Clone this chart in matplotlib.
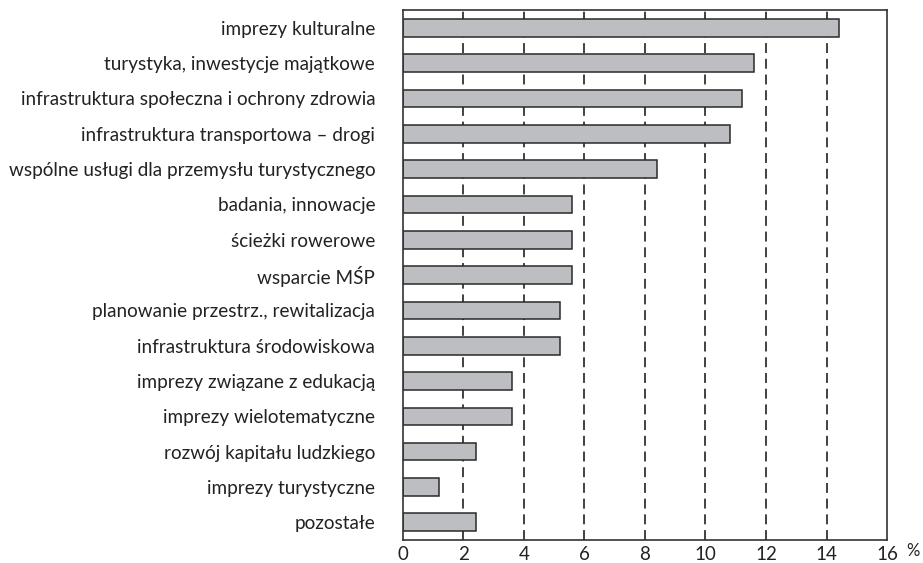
import matplotlib
matplotlib.use("Agg")
import matplotlib.pyplot as plt

categories = [
    "imprezy kulturalne",
    "turystyka, inwestycje majątkowe",
    "infrastruktura społeczna i ochrony zdrowia",
    "infrastruktura transportowa – drogi",
    "wspólne usługi dla przemysłu turystycznego",
    "badania, innowacje",
    "ścieżki rowerowe",
    "wsparcie MŚP",
    "planowanie przestrz., rewitalizacja",
    "infrastruktura środowiskowa",
    "imprezy związane z edukacją",
    "imprezy wielotematyczne",
    "rozwój kapitału ludzkiego",
    "imprezy turystyczne",
    "pozostałe",
]
values = [14.4, 11.6, 11.2, 10.8, 8.4, 5.6, 5.6, 5.6, 5.2, 5.2, 3.6, 3.6, 2.4, 1.2, 2.4]
xticks = [0, 2, 4, 6, 8, 10, 12, 14, 16]

plt.rcParams['font.family'] = ['Lato', 'DejaVu Sans']

fig = plt.figure(figsize=(9.23, 5.63), dpi=100)
ax = fig.add_axes([0.4366, 0.0409, 0.961 - 0.4366, 0.982 - 0.0409])

ypos = list(range(len(categories)))
for x in xticks[1:-1]:
    ax.axvline(x, color='#333333', lw=1.3, linestyle=(0, (5.5, 3.2)), zorder=1)
ax.barh(ypos, values, height=0.5, color='#bdbec2', edgecolor='#2a2a2a', linewidth=1.1, zorder=2)

ax.set_xlim(0, 16)
ax.set_ylim(len(categories) - 0.5, -0.5)
ax.set_xticks(xticks)
ax.set_xticklabels([str(t) for t in xticks], fontsize=13.5, color='#222222')
ax.set_yticks(ypos)
ax.set_yticklabels(categories, fontsize=13.6, color='#222222')
ax.tick_params(axis='both', length=0)
ax.tick_params(axis='y', pad=20)
ax.tick_params(axis='x', pad=4)
for s in ax.spines.values():
    s.set_color('#333333')
    s.set_linewidth(1.2)

ax.text(1.054, -0.005, '%', transform=ax.transAxes, fontsize=12, color='#222222',
        ha='center', va='top')

fig.savefig('out.png', dpi=100)
